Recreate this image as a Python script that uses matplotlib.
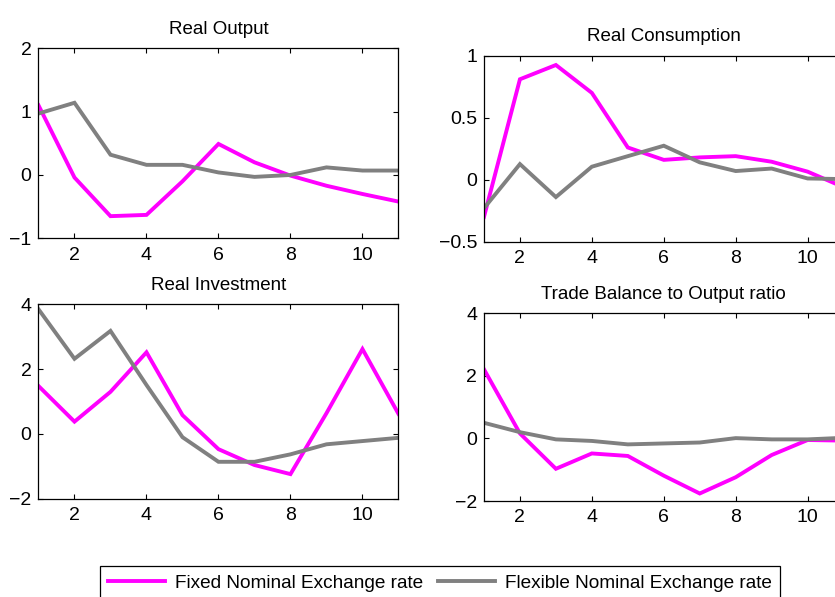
import numpy as np
import matplotlib
matplotlib.use('Agg')
import matplotlib.pyplot as plt
from matplotlib.ticker import FuncFormatter

plt.rcParams['font.family'] = ['Liberation Sans', 'DejaVu Sans']
plt.rcParams['font.size'] = 13.5

periods = np.arange(1, 12)

output_fixed = [1.10, -0.04, -0.65, -0.63, -0.10, 0.49, 0.20, -0.01, -0.17, -0.30, -0.42]
output_flex = [0.97, 1.14, 0.32, 0.16, 0.16, 0.04, -0.03, 0.00, 0.12, 0.07, 0.07]

cons_fixed = [-0.30, 0.81, 0.925, 0.70, 0.26, 0.16, 0.18, 0.19, 0.145, 0.065, -0.06]
cons_flex = [-0.23, 0.126, -0.14, 0.105, 0.19, 0.274, 0.14, 0.07, 0.09, 0.01, 0.005]

inv_fixed = [1.48, 0.38, 1.30, 2.52, 0.58, -0.47, -0.96, -1.24, 0.64, 2.62, 0.62]
inv_flex = [3.85, 2.32, 3.18, 1.51, -0.10, -0.86, -0.86, -0.63, -0.32, -0.22, -0.12]

tb_fixed = [2.21, 0.16, -0.97, -0.48, -0.56, -1.19, -1.76, -1.24, -0.53, -0.05, -0.07]
tb_flex = [0.50, 0.20, -0.03, -0.08, -0.19, -0.16, -0.13, 0.01, -0.03, -0.03, 0.02]

titles = ['Real Output', 'Real Consumption', 'Real Investment',
          'Trade Balance to Output ratio']
fixed = [output_fixed, cons_fixed, inv_fixed, tb_fixed]
flex = [output_flex, cons_flex, inv_flex, tb_flex]
ylims = [(-1, 2), (-0.5, 1), (-2, 4), (-2, 4)]
yticks = [[-1, 0, 1, 2], [-0.5, 0, 0.5, 1], [-2, 0, 2, 4], [-2, 0, 2, 4]]

# axes rectangles in figure fractions (right column runs past the edge)
rects = [[0.0461, 0.6008, 0.4311, 0.3183],
         [0.5796, 0.5951, 0.4307, 0.3116],
         [0.0461, 0.1646, 0.4311, 0.3256],
         [0.5796, 0.1608, 0.4307, 0.3144]]

magenta = (1, 0, 1)
grey = (0.5, 0.5, 0.5)

fig = plt.figure(figsize=(8.35, 5.97), dpi=100)

fmt = FuncFormatter(lambda v, p: ('%g' % v).replace('-', '\u2212'))

for i in range(4):
    ax = fig.add_axes(rects[i])
    l1, = ax.plot(periods, fixed[i], color=magenta, lw=2.8,
                  label='Fixed Nominal Exchange rate', solid_joinstyle='miter')
    l2, = ax.plot(periods, flex[i], color=grey, lw=2.8,
                  label='Flexible Nominal Exchange rate', solid_joinstyle='miter')
    ax.set_xlim(1, 11)
    ax.set_ylim(*ylims[i])
    ax.set_xticks([2, 4, 6, 8, 10])
    ax.set_yticks(yticks[i])
    ax.yaxis.set_major_formatter(fmt)
    ax.tick_params(direction='in', top=True, right=True, length=3.5,
                   width=0.8, labelsize=14, pad=5)
    ax.tick_params(axis='x', pad=6)
    for s in ax.spines.values():
        s.set_linewidth(0.9)
    ax.set_title(titles[i], fontsize=13.5, pad=10.5)

leg = fig.legend([l1, l2], ['Fixed Nominal Exchange rate',
                            'Flexible Nominal Exchange rate'],
                 loc='upper center', bbox_to_anchor=(0.527, 0.052), ncol=2,
                 fontsize=13.7, handlelength=3.0, columnspacing=0.8,
                 handletextpad=0.5, borderaxespad=0, borderpad=0.45,
                 fancybox=False, framealpha=1, edgecolor='black')
leg.get_frame().set_linewidth(0.9)

plt.savefig('out.png', dpi=100)
